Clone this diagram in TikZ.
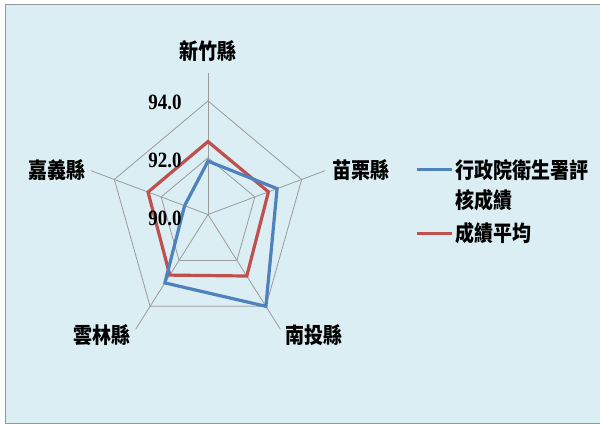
\documentclass[tikz,border=0pt]{standalone}
\usepackage{fontspec}
\setmainfont{Liberation Serif}
\newfontfamily\cjk{Noto Sans CJK TC}
\definecolor{bg1}{RGB}{219, 238, 244}
\definecolor{frame1}{RGB}{150, 150, 150}
\definecolor{grid1}{RGB}{155, 155, 155}
\definecolor{blue1}{RGB}{79, 129, 189}
\definecolor{red1}{RGB}{192, 80, 77}
\newcommand{\tall}[1]{\scalebox{1}[1.15]{#1}}

\begin{document}
\begin{tikzpicture}[x=1pt, y=-1pt, line width=1pt,
  grid/.style={draw=grid1, line width=0.8pt},
  series/.style={line width=3.2pt, line join=miter},
  county/.style={font=\cjk\bfseries\fontsize{19}{22}\selectfont, inner sep=0pt},
  tick/.style={font=\bfseries\fontsize{19}{22}\selectfont, inner sep=0pt, anchor=east}]
  \useasboundingbox[fill=white] (0,0) rectangle (600,425);
  \fill[bg1] (5,5) rectangle (600,423);
  \draw[frame1] (600,5) -- (5,5) -- (5,423) -- (600,423);

  \begin{scope}[shift={(208,214.5)}, x=98.5pt, y=113.5pt]
    \coordinate (o) at (0,0);
    \foreach \n/\a in {a1/90, a2/18, a3/-54, a4/-126, a5/162}{
      \coordinate (\n) at (\a:1.25);
      \draw[grid] (o) -- (\n);
    }
    \foreach \r in {0.5, 1}
      \draw[grid] (90:\r) -- (18:\r) -- (-54:\r) -- (-126:\r) -- (162:\r) -- cycle;
    % average
    \draw[series, red1] (90:{(92.57-90)/4}) -- (18:{(92.58-90)/4}) -- (-54:{(92.68-90)/4})
      -- (-126:{(92.64-90)/4}) -- (162:{(92.56-90)/4}) -- cycle;
    % evaluation
    \draw[series, blue1] (90:{(91.88-90)/4}) -- (18:{(92.95-90)/4}) -- (-54:{(94.0-90)/4})
      -- (-126:{(92.98-90)/4}) -- (162:{(91.0-90)/4}) -- cycle;
  \end{scope}

  \node[tick] (t94) at (182,102) {\tall{94.0}};
  \node[tick] (t92) at (182,160.5) {\tall{92.0}};
  \node[tick] (t90) at (182,218) {\tall{90.0}};

  \node[county] (hsinchu) at (208,51) {\tall{新竹縣}};
  \node[county] (miaoli) at (360.5,170) {\tall{苗栗縣}};
  \node[county] (nantou) at (314,335) {\tall{南投縣}};
  \node[county] (yunlin) at (102,335) {\tall{雲林縣}};
  \node[county] (chiayi) at (57,170) {\tall{嘉義縣}};

  \coordinate (l1a) at (417,170);
  \coordinate (l1b) at (452,170);
  \coordinate (l2a) at (417,233);
  \coordinate (l2b) at (452,233);
  \draw[blue1, line width=3pt] (l1a) -- (l1b);
  \draw[red1, line width=3pt] (l2a) -- (l2b);
  \node[county, anchor=west] (leg1) at (455,170) {\tall{行政院衛生署評}};
  \node[county, anchor=west] (leg1b) at (455,200) {\tall{核成績}};
  \node[county, anchor=west] (leg2) at (455,233) {\tall{成績平均}};
\end{tikzpicture}
\end{document}
